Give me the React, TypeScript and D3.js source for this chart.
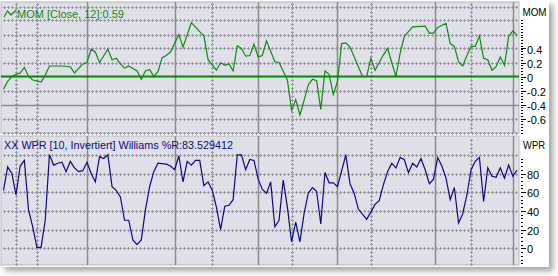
import React from "react";
import * as d3 from "d3";

// ---- data (bar index -> value) ----
const momBars = [0,1,2,3,4,5,6,7,9,10,11,14,16,17,19,20,21,22,23,25,26,27,28,29,30,32,33,34,35,36,37,38,39,40,42,43,45,47,48,49,51,52,53,54,55,56,57,58,59,60,61,62,63,65,66,68,69,70,71,72,73,74,75,76,77,78,79,80,81,82,83,85,86,87,88,89,90,91,92,94,95,96,97,98,101,102,103,104,106,107,108,109,110,111,112,113,114,115,116,117,118,119,120,121,122,123];
const momValues = [-0.18,-0.07,0.0,0.03,0.05,0.13,0.0,-0.05,-0.08,0.02,0.15,0.15,0.14,0.05,0.18,0.2,0.39,0.35,0.2,0.39,0.24,0.26,0.18,0.12,0.15,0.08,-0.04,0.08,0.1,0.0,0.07,0.27,0.3,0.35,0.6,0.42,0.77,0.64,0.58,0.24,0.09,0.2,0.16,0.18,0.08,0.44,0.4,0.29,0.3,0.46,0.28,0.3,0.51,0.21,0.2,-0.05,-0.48,-0.33,-0.55,-0.34,-0.12,-0.04,-0.06,-0.47,0.08,0.03,-0.26,-0.07,0.47,0.48,0.42,0.14,0.0,0.0,0.26,0.09,0.2,0.31,0.4,0.0,0.33,0.57,0.64,0.71,0.72,0.62,0.62,0.7,0.76,0.47,0.43,0.21,0.15,0.3,0.43,0.43,0.58,0.26,0.24,0.09,0.14,0.28,0.16,0.57,0.65,0.59];

const wprBars = [0,1,2,3,4,5,6,7,8,9,10,11,12,13,14,15,16,17,18,19,20,21,22,23,24,25,26,27,28,29,30,31,32,33,34,35,36,37,39,40,41,42,43,44,45,46,47,48,49,50,51,52,53,54,55,56,57,58,59,60,61,62,63,64,65,66,67,68,69,70,71,72,73,74,75,76,77,78,79,80,82,83,84,85,87,89,90,91,92,93,94,95,96,97,98,99,100,101,102,103,104,105,106,107,108,109,110,111,112,113,114,115,116,117,118,119,120,121,122,123];
const wprValues = [62,87,80,57,88,94,41,23,1,1,30,100,89,91,92,82,93,86,82,83,92,80,71,98,96,100,66,62,55,30,30,9,4,9,41,66,82,91,90,88,84,99,71,93,89,94,94,67,71,62,44,20,45,46,52,100,100,84,95,94,74,63,59,71,23,30,73,44,7,28,7,37,59,65,61,26,81,70,70,66,100,69,59,42,31,47,51,68,82,91,86,97,95,81,91,87,96,84,69,74,97,88,75,52,65,27,37,57,84,93,97,50,86,77,76,86,75,89,77,83.5];

const barCount = 124;
const majorGridBars = [20, 41, 61, 80, 103.4, 122];
const minorGridBars = [3, 8, 50, 69, 88, 112];

const momGridValues = [1.0, 0.8, 0.6, 0.4, 0.2, -0.2, -0.6, -0.8];
const momSolidValues = [-0.4];
const momTickLabels = [0.4, 0.2, 0, -0.2, -0.4, -0.6];
const wprGridValues = [100, 80, 60, 40, 20, 0];
const wprTickLabels = [80, 60, 40, 20, 0];

const momTitle = "MOM [Close, 12]:0.59";
const wprTitle = "XX WPR [10, Invertiert] Williams %R:83.529412";

const W = 558, H = 276;
const PL = 1, PR = 519;
const TOP = { y0: 2, y1: 133 };
const BOT = { y0: 136, y1: 265 };
const BG = "#dfdfe8";
const DOT = "#9a9aa3";
const SOLID = "#8a8a8a";
const FONT = "'Liberation Sans', Arial, sans-serif";

function crossRow(y: number, x0: number, x1: number) {
  let d = "";
  const yy = Math.round(y);
  for (let x = Math.ceil(x0 / 4) * 4; x <= x1; x += 4) {
    d += `M${x - 1} ${yy + 0.5}h3M${x + 0.5} ${yy - 1}v3`;
  }
  return d;
}
function crossCol(x: number, y0: number, y1: number) {
  let d = "";
  const xx = Math.round(x);
  for (let y = Math.ceil(y0 / 4) * 4; y <= y1; y += 4) {
    d += `M${xx - 1} ${y + 0.5}h3M${xx + 0.5} ${y - 1}v3`;
  }
  return d;
}

export default function App() {
  const x = d3.scaleLinear().domain([0, barCount - 1]).range([3.5, 517]);
  const yM = d3.scaleLinear().domain([-0.8, 1.0]).range([132.5, 6.5]);
  const yW = d3.scaleLinear().domain([0, 100]).range([248.3, 154.8]);

  const momLine = d3.line<number>().x((_, i) => x(momBars[i])).y((d) => yM(d))(momValues) || "";
  const wprLine = d3.line<number>().x((_, i) => x(wprBars[i])).y((d) => yW(d))(wprValues) || "";

  const panel = (p: { y0: number; y1: number }, rows: number[], yScale: (v: number) => number, solidRows: number[]) => (
    <g>
      <rect x={PL} y={p.y0} width={PR - PL} height={p.y1 - p.y0} fill={BG} stroke="#b8b8c0" strokeWidth={1} />
      <path
        d={rows.map((v) => crossRow(yScale(v), PL + 2, PR - 2)).join("") +
          minorGridBars.map((b) => crossCol(x(b), p.y0 + 2, p.y1 - 1)).join("")}
        stroke={DOT}
        strokeWidth={1}
        fill="none"
        shapeRendering="crispEdges"
      />
      {majorGridBars.map((b, i) => (
        <line key={i} x1={Math.round(x(b)) + 0.5} x2={Math.round(x(b)) + 0.5} y1={p.y0} y2={p.y1} stroke={SOLID} strokeWidth={1.5} />
      ))}
      {solidRows.map((v, i) => (
        <line key={"s" + i} x1={PL} x2={PR} y1={Math.round(yScale(v)) + 0.5} y2={Math.round(yScale(v)) + 0.5} stroke={SOLID} strokeWidth={1.5} />
      ))}
    </g>
  );

  const axis = (yScale: (v: number) => number, lo: number, hi: number, step: number, major: number[], fmt: (v: number) => string) => {
    const ticks = d3.range(lo, hi + step / 2, step);
    return (
      <g>
        <path
          d={ticks.map((v) => `M521 ${Math.round(yScale(v)) + 0.5}h2`).join("")}
          stroke="#000"
          strokeWidth={1}
          shapeRendering="crispEdges"
        />
        {major.map((v, i) => (
          <g key={i}>
            <line x1={521} x2={526} y1={Math.round(yScale(v)) + 0.5} y2={Math.round(yScale(v)) + 0.5} stroke="#000" strokeWidth={1} shapeRendering="crispEdges" />
            <text x={527} y={yScale(v) + 5} fontSize={11} fontFamily={FONT} fill="#000">{fmt(v)}</text>
          </g>
        ))}
      </g>
    );
  };

  return (
    <svg width={W} height={H} style={{ position: "absolute", left: 0, top: 0, background: "#fff" }}>
      <defs>
        <filter id="sh" x="-5%" y="-5%" width="115%" height="115%">
          <feGaussianBlur stdDeviation="3" />
        </filter>
      </defs>
      <rect x={5} y={5} width={548} height={266} fill="#555" opacity={0.55} filter="url(#sh)" />
      <rect x={0} y={0} width={549} height={267} fill="#fff" />

      {panel(TOP, momGridValues, yM, momSolidValues)}
      {panel(BOT, wprGridValues, yW, [])}

      {/* zero line */}
      <line x1={PL} x2={PR} y1={yM(0)} y2={yM(0)} stroke="#008a00" strokeWidth={1.8} />

      <path d={momLine} fill="none" stroke="#108a10" strokeWidth={1.2} />
      <path d={wprLine} fill="none" stroke="#0a0a80" strokeWidth={1.2} />

      {/* titles */}
      <path d="M4 17 L7.5 11 L11 15 L16 10" fill="none" stroke="#108a10" strokeWidth={1.2} />
      <text x={17} y={18} fontSize={11} fontFamily={FONT} fill="#108a10">{momTitle}</text>
      <text x={4} y={149} fontSize={11} fontFamily={FONT} fill="#0a0a80" textLength={229} lengthAdjust="spacingAndGlyphs">{wprTitle}</text>

      {/* right axes */}
      <text x={522.5} y={16} fontSize={11} fontFamily={FONT} fill="#000" textLength={24} lengthAdjust="spacingAndGlyphs">MOM</text>
      {axis(yM, -0.8, 0.8, 0.04, momTickLabels, (v) => (Math.abs(v) < 1e-9 ? "0" : String(+v.toFixed(1))))}
      <text x={523} y={148.5} fontSize={11} fontFamily={FONT} fill="#000" textLength={22} lengthAdjust="spacingAndGlyphs">WPR</text>
      {axis(yW, -16, 96, 4, wprTickLabels, (v) => String(v))}
    </svg>
  );
}
